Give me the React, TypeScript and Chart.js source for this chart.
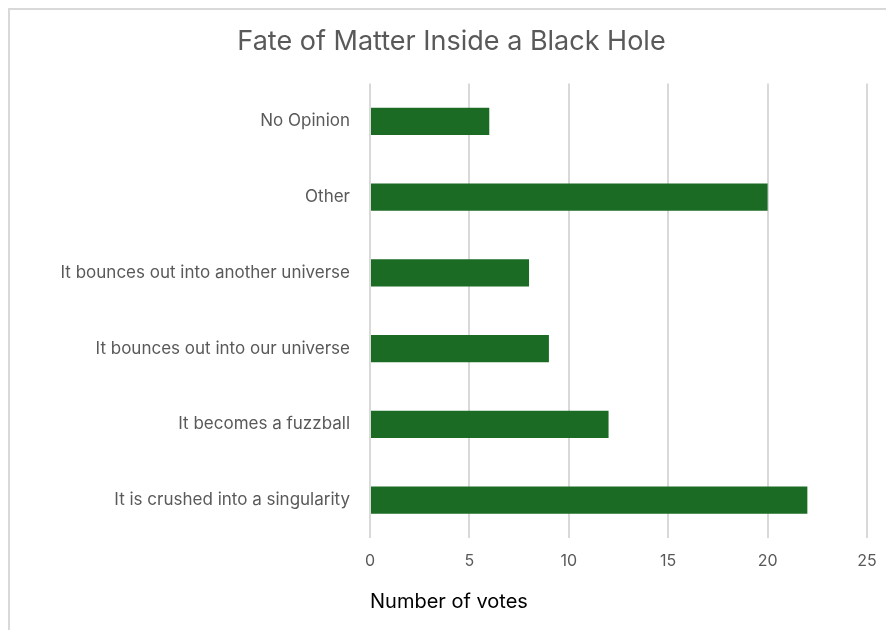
import React, { useEffect, useRef } from "react";
import { Chart, registerables } from "chart.js";

Chart.register(...registerables);

const categories = [
  "No Opinion",
  "Other",
  "It bounces out into another universe",
  "It bounces out into our universe",
  "It becomes a fuzzball",
  "It is crushed into a singularity",
];
const votes = [6, 20, 8, 9, 12, 22];
const chartTitle = "Fate of Matter Inside a Black Hole";
const xAxisTitle = "Number of votes";

export default function App() {
  const ref = useRef<HTMLCanvasElement | null>(null);
  useEffect(() => {
    if (!ref.current) return;
    const font = "Inter, 'Noto Sans', sans-serif";
    const chart = new Chart(ref.current, {
      type: "bar",
      data: {
        labels: categories,
        datasets: [
          {
            data: votes,
            backgroundColor: "#1c6b24",
            borderWidth: 0,
            barPercentage: 0.36,
            categoryPercentage: 1,
          },
        ],
      },
      options: {
        indexAxis: "y",
        animation: false,
        responsive: false,
        layout: { padding: { left: 26, right: 27, top: 0, bottom: 8 } },
        plugins: {
          legend: { display: false },
          tooltip: { enabled: false },
          title: {
            display: true,
            text: chartTitle,
            color: "#595959",
            font: { family: font, size: 27, weight: "normal" },
            padding: { top: 16, bottom: 25 },
          },
        },
        scales: {
          x: {
            min: 0,
            max: 25,
            ticks: {
              stepSize: 5,
              color: "#595959",
              font: { family: font, size: 16 },
              padding: 14,
            },
            grid: { color: "#d9d9d9", lineWidth: 2, drawTicks: false },
            border: { display: false },
            title: {
              display: true,
              text: xAxisTitle,
              align: "start",
              color: "#000000",
              font: { family: font, size: 20 },
              padding: { top: 10, bottom: 8 },
            },
            afterFit: (s: any) => {
              s.height = 84;
            },
          },
          y: {
            ticks: {
              color: "#595959",
              font: { family: font, size: 17 },
              padding: 20,
            },
            grid: { display: false, drawTicks: false },
            border: { display: false },
            afterFit: (s: any) => {
              s.width = 334;
            },
          },
        },
      },
    });
    return () => chart.destroy();
  }, []);
  return (
    <div
      style={{
        position: "relative",
        width: 886,
        height: 622,
        borderTop: "2px solid #d9d9d9",
        borderLeft: "2px solid #d9d9d9",
        boxSizing: "border-box",
        background: "#fff",
      }}
    >
      <canvas ref={ref} width={884} height={620} style={{ display: "block" }} />
    </div>
  );
}
